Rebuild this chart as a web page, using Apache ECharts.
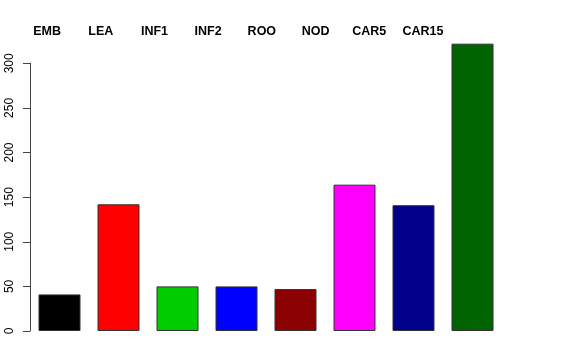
<!DOCTYPE html>
<html><head><meta charset="utf-8">
<script src="https://cdn.jsdelivr.net/npm/echarts@6/dist/echarts.min.js"></script>
<style>html,body{margin:0;padding:0;background:#fff}#c{width:576px;height:360px}</style>
</head><body><div id="c"></div>
<script>
const categories = ['EMB','LEA','INF1','INF2','ROO','NOD','CAR5','CAR15'];
const values = [41, 142, 50, 50, 47, 164, 141, 322];
const barColors = ['#000000','#FF0000','#00CD00','#0000FF','#8B0000','#FF00FF','#00008B','#006400'];
const yTicks = [0, 50, 100, 150, 200, 250, 300];

const chart = echarts.init(document.getElementById('c'), null, {renderer:'canvas'});
chart.setOption({
  animation: false,
  backgroundColor: '#ffffff',
  grid: [
    {left: 30, width: 472, top: 63.3, bottom: 29},
    {left: 20.2, width: 429.6, top: 63.3, bottom: 29}
  ],
  xAxis: [
    {type: 'category', gridIndex: 0, data: categories, show: false},
    {type: 'category', gridIndex: 1, data: categories, position: 'top',
     axisLine: {show: false}, axisTick: {show: false},
     axisLabel: {fontFamily: 'Liberation Sans', fontWeight: 'bold', fontSize: 12.5, color: '#000', margin: 25, interval: 0}}
  ],
  yAxis: [
    {type: 'value', gridIndex: 0, min: yTicks[0], max: yTicks[yTicks.length-1], interval: 50,
     splitLine: {show: false},
     axisLine: {show: true, lineStyle: {color: '#444', width: 1}},
     axisTick: {show: true, length: 7, lineStyle: {color: '#444'}},
     axisLabel: {rotate: 90, fontFamily: 'Liberation Sans', fontSize: 12, color: '#000', margin: 14}},
    {type: 'value', gridIndex: 1, show: false, min: 0, max: 300}
  ],
  series: [{
    type: 'bar', xAxisIndex: 0, yAxisIndex: 0, clip: false,
    barWidth: 42,
    data: values.map((v, i) => ({value: v, itemStyle: {color: barColors[i]}})),
    itemStyle: {borderColor: '#333', borderWidth: 1}
  }]
});
</script></body></html>
